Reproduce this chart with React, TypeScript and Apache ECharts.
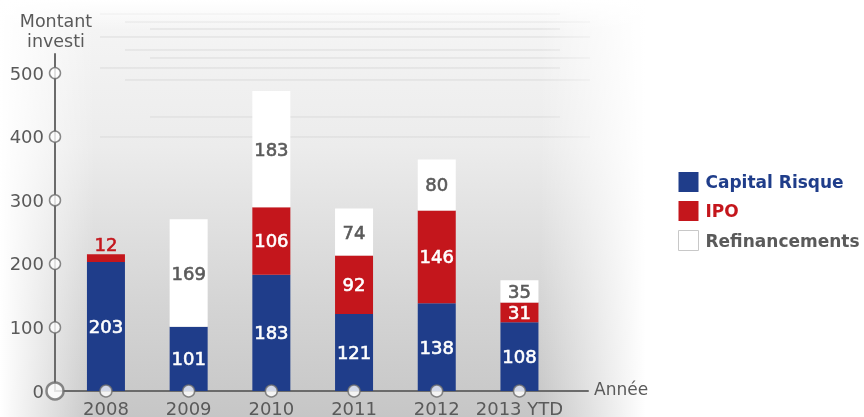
import React, { useEffect, useRef } from "react";
import * as echarts from "echarts";

const categories = ["2008", "2009", "2010", "2011", "2012", "2013 YTD"];
const capitalRisque = [203, 101, 183, 121, 138, 108];
const ipo = [12, 0, 106, 92, 146, 31];
const refinancements = [0, 169, 183, 74, 80, 35];
const yTicks = [100, 200, 300, 400, 500];

const BLUE = "#1f3d8a";
const RED = "#c4161c";
const GRAY_TEXT = "#5a5a5a";
const AXIS = "#6b6b6b";
const FONT = "'DejaVu Sans', sans-serif";

export default function App() {
  const ref = useRef<HTMLDivElement>(null);
  useEffect(() => {
    const chart = echarts.init(ref.current!, undefined, { renderer: "svg" });
    const top = 54;
    const bottom = 26;
    const gridLeft = 64.6;
    const gridRight = 864 - (64.6 + 6 * 82.7);
    const labelBase = {
      show: true,
      fontFamily: FONT,
      fontSize: 18,
      lineHeight: 14,
      textBorderWidth: 0.6,
    };
    const decoLines = [14, 22, 29, 37, 50, 58, 68, 80, 117, 137].map((y, i) => ({
      type: "line",
      silent: true,
      z: -8,
      shape: { x1: 100 + (i % 3) * 25, y1: y, x2: 560 + (i % 2) * 30, y2: y },
      style: { stroke: "#d6d6d6", lineWidth: 1, opacity: 0.8 },
    }));
    chart.setOption({
      animation: false,
      graphic: [
        {
          type: "rect",
          silent: true,
          z: -10,
          shape: { x: 0, y: 0, width: 680, height: 417 },
          style: {
            fill: new echarts.graphic.LinearGradient(0, 0, 0, 1, [
              { offset: 0, color: "#f6f6f6" },
              { offset: 0.35, color: "#ececec" },
              { offset: 0.7, color: "#d6d6d6" },
              { offset: 1, color: "#c6c6c6" },
            ]),
          },
        },
        ...decoLines,
        {
          type: "rect",
          silent: true,
          z: -7,
          shape: { x: 0, y: 0, width: 95, height: 417 },
          style: {
            fill: new echarts.graphic.LinearGradient(0, 0, 1, 0, [
              { offset: 0, color: "rgba(255,255,255,1)" },
              { offset: 1, color: "rgba(255,255,255,0)" },
            ]),
          },
        },
        {
          type: "rect",
          silent: true,
          z: -7,
          shape: { x: 540, y: 0, width: 140, height: 417 },
          style: {
            fill: new echarts.graphic.LinearGradient(0, 0, 1, 0, [
              { offset: 0, color: "rgba(255,255,255,0)" },
              { offset: 0.75, color: "rgba(255,255,255,1)" },
              { offset: 1, color: "rgba(255,255,255,1)" },
            ]),
          },
        },
        {
          type: "rect",
          silent: true,
          z: -7,
          shape: { x: 0, y: 0, width: 680, height: 30 },
          style: {
            fill: new echarts.graphic.LinearGradient(0, 0, 0, 1, [
              { offset: 0, color: "rgba(255,255,255,1)" },
              { offset: 1, color: "rgba(255,255,255,0)" },
            ]),
          },
        },
        {
          type: "text",
          silent: true,
          style: {
            x: 56,
            y: 11,
            text: "Montant\ninvesti",
            fill: GRAY_TEXT,
            font: `17.5px ${FONT}`,
            lineHeight: 20,
            align: "center",
          },
        },
        {
          type: "text",
          silent: true,
          style: { x: 594, y: 380, text: "Année", fill: GRAY_TEXT, font: `17px ${FONT}` },
        },
      ],
      legend: {
        orient: "vertical",
        left: 678,
        top: 172,
        padding: 0,
        itemWidth: 20,
        itemHeight: 20,
        itemGap: 9,
        icon: "rect",
        textStyle: { fontFamily: FONT, fontSize: 17, fontWeight: "bold", padding: [0, 0, 0, 2] },
        data: [
          { name: "Capital Risque", textStyle: { color: BLUE } },
          { name: "IPO", textStyle: { color: RED } },
          {
            name: "Refinancements",
            textStyle: { color: GRAY_TEXT },
            itemStyle: { color: "#ffffff", borderColor: "#c8c8c8", borderWidth: 1 },
          },
        ],
      },
      grid: [
        { left: gridLeft, right: gridRight, top, bottom },
        { left: 55, right: 864 - 588, top, bottom },
      ],
      xAxis: [
        {
          type: "category",
          data: categories,
          gridIndex: 0,
          axisLine: { show: false },
          axisTick: { show: false },
          axisLabel: {
            color: GRAY_TEXT,
            fontFamily: FONT,
            fontSize: 18,
            margin: 8,
            interval: 0,
          },
        },
        {
          type: "value",
          gridIndex: 1,
          min: 0,
          max: 1,
          axisLine: { show: true, lineStyle: { color: AXIS, width: 2 } },
          axisTick: { show: false },
          axisLabel: { show: false },
          splitLine: { show: false },
        },
      ],
      yAxis: [
        {
          type: "value",
          gridIndex: 0,
          min: 0,
          max: 530,
          interval: 100,
          offset: gridLeft - 55,
          axisLine: { show: true, lineStyle: { color: AXIS, width: 2 } },
          axisTick: { show: false },
          splitLine: { show: false },
          axisLabel: {
            color: GRAY_TEXT,
            fontFamily: FONT,
            fontSize: 18,
            margin: 11,
            formatter: (v: number) => (v % 100 === 0 && v <= 500 ? String(v) : ""),
          },
        },
        {
          type: "value",
          gridIndex: 1,
          min: 0,
          max: 530,
          show: false,
        },
      ],
      series: [
        {
          name: "Capital Risque",
          type: "bar",
          stack: "t",
          barWidth: 38,
          data: capitalRisque,
          itemStyle: { color: BLUE },
          label: { ...labelBase, color: "#ffffff", textBorderColor: "#ffffff", position: "inside" },
        },
        {
          name: "IPO",
          type: "bar",
          stack: "t",
          barWidth: 38,
          data: ipo.map((v) =>
            v === 0
              ? { value: v, label: { show: false } }
              : v < 20
              ? {
                  value: v,
                  label: { position: "top", color: RED, textBorderColor: RED, distance: 3 },
                }
              : v
          ),
          itemStyle: { color: RED },
          label: { ...labelBase, color: "#ffffff", textBorderColor: "#ffffff", position: "inside" },
        },
        {
          name: "Refinancements",
          type: "bar",
          stack: "t",
          barWidth: 38,
          data: refinancements.map((v) => (v === 0 ? { value: v, label: { show: false } } : v)),
          itemStyle: { color: "#ffffff" },
          label: { ...labelBase, color: GRAY_TEXT, textBorderColor: GRAY_TEXT, position: "inside" },
        },
        {
          type: "scatter",
          xAxisIndex: 0,
          yAxisIndex: 0,
          data: categories.map((c) => [c, 0]),
          symbolSize: 12,
          clip: false,
          z: 5,
          itemStyle: { color: "#ffffff", borderColor: AXIS, borderWidth: 1.5 },
          silent: true,
        },
        {
          type: "scatter",
          xAxisIndex: 1,
          yAxisIndex: 1,
          data: yTicks.map((v) => [0, v]),
          symbolSize: 11,
          clip: false,
          z: 5,
          itemStyle: { color: "#ffffff", borderColor: AXIS, borderWidth: 1.5 },
          silent: true,
        },
        {
          type: "scatter",
          xAxisIndex: 1,
          yAxisIndex: 1,
          data: [[0, 0]],
          symbolSize: 17,
          clip: false,
          z: 5,
          itemStyle: { color: "#ffffff", borderColor: AXIS, borderWidth: 2.5 },
          silent: true,
        },
      ],
    });
    return () => chart.dispose();
  }, []);
  return (
    <div
      ref={ref}
      style={{ position: "fixed", left: 0, top: 0, width: 864, height: 417 }}
    />
  );
}
